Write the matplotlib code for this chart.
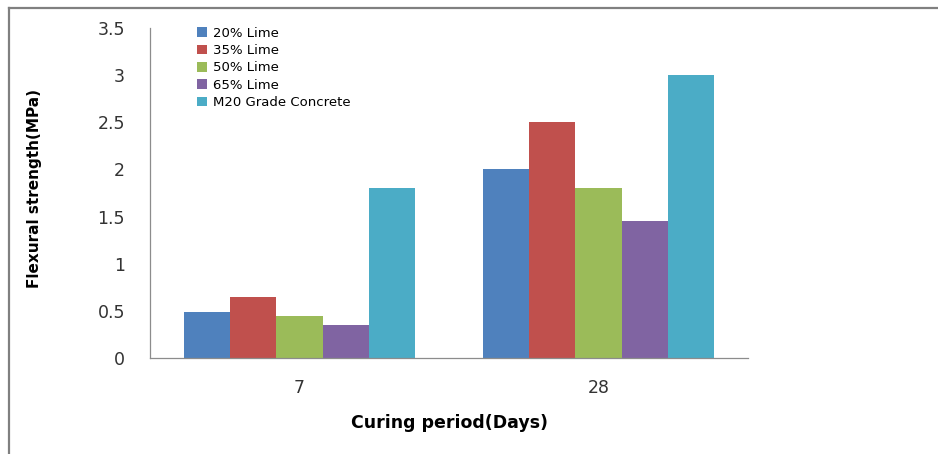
import matplotlib
matplotlib.use("Agg")
import matplotlib.pyplot as plt
from matplotlib.lines import Line2D
import numpy as np

W, H = 938, 454
DPI = 100

categories = ["7", "28"]
series = ["20% Lime", "35% Lime", "50% Lime", "65% Lime", "M20 Grade Concrete"]
values = [
    [0.49, 2.0],
    [0.65, 2.5],
    [0.45, 1.8],
    [0.35, 1.45],
    [1.8, 3.0],
]
colors = ["#4F81BD", "#C0504D", "#9BBB59", "#8064A2", "#4BACC6"]
yticks = [0, 0.5, 1, 1.5, 2, 2.5, 3, 3.5]
ytick_labels = ["0", "0.5", "1", "1.5", "2", "2.5", "3", "3.5"]

fig = plt.figure(figsize=(W / DPI, H / DPI), dpi=DPI)

# axes box in pixels: left 150, right 748, top 28, bottom 358
ax = fig.add_axes([150 / W, 1 - 358 / H, (748 - 150) / W, (358 - 28) / H])

x = np.arange(len(categories))
group_w = 0.77
bw = group_w / len(series)
for i, (name, vals) in enumerate(zip(series, values)):
    off = -group_w / 2 + bw * (i + 0.5)
    ax.bar(x + off, vals, width=bw, color=colors[i], label=name, linewidth=0)

ax.set_xlim(-0.5, 1.5)
ax.set_ylim(0, 3.5)
ax.set_yticks(yticks)
ax.set_yticklabels(ytick_labels, fontsize=12.5, color="#333333")
ax.set_xticks(x)
ax.set_xticklabels(categories, fontsize=12.5, color="#333333")
ax.tick_params(axis="both", length=0)
ax.tick_params(axis="y", pad=18)
ax.tick_params(axis="x", pad=15)

for s in ["top", "right"]:
    ax.spines[s].set_visible(False)
ax.spines["left"].set_color("#8c8c8c")
ax.spines["bottom"].set_color("#8c8c8c")
ax.spines["left"].set_linewidth(0.9)
ax.spines["bottom"].set_linewidth(0.9)

ax.set_xlabel("Curing period(Days)", fontsize=12.5, fontweight="bold", labelpad=12)
fig.text(35 / W, 1 - 188 / H, "Flexural strength(MPa)", rotation=90,
         ha="center", va="center", fontsize=11, fontweight="bold",
         family="DejaVu Sans")

leg = ax.legend(loc="upper left", bbox_to_anchor=(42 / 598, 1.02), frameon=False,
                fontsize=9.5, handlelength=0.75, handleheight=0.75,
                handletextpad=0.45, labelspacing=0.33, borderaxespad=0)

# outer grey frame (top and left edges)
fig.add_artist(Line2D([9 / W, 1], [1 - 8 / H, 1 - 8 / H], color="#808080", lw=1.6))
fig.add_artist(Line2D([9 / W, 9 / W], [0, 1 - 8 / H], color="#808080", lw=1.6))

fig.savefig("out.png", dpi=DPI)
